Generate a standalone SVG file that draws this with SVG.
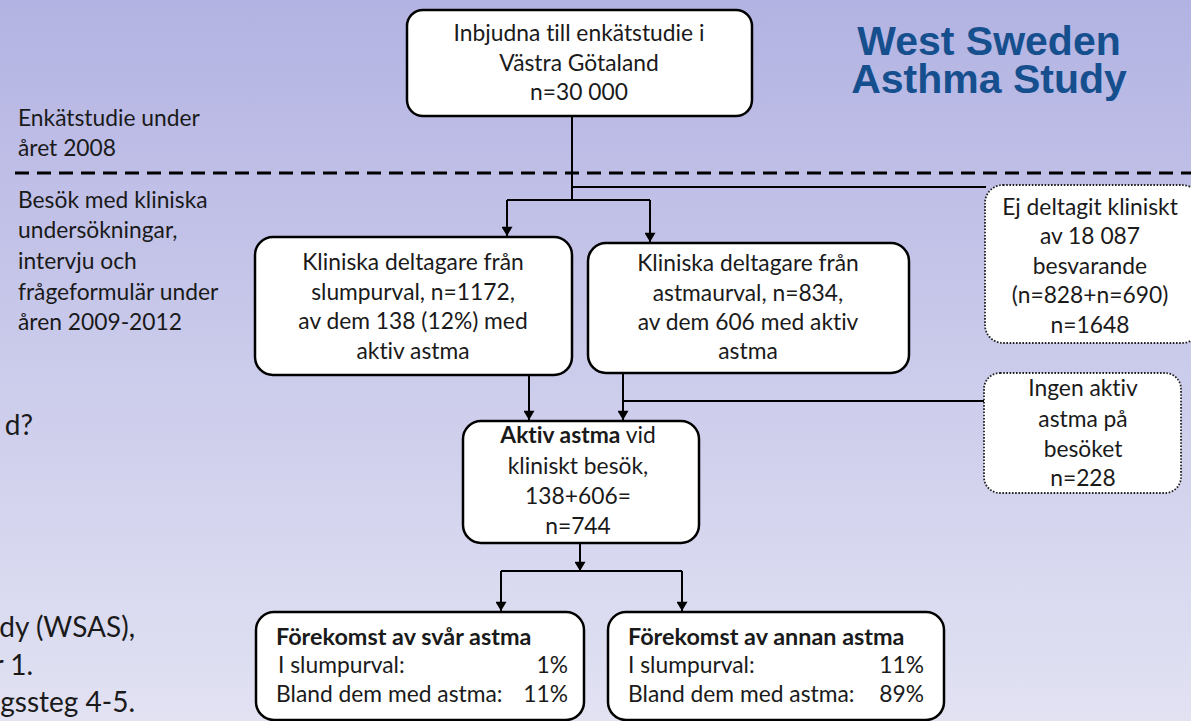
<svg xmlns="http://www.w3.org/2000/svg" width="1191" height="721" viewBox="0 0 1191 721">
<defs>
<linearGradient id="bg" x1="0" y1="0" x2="0" y2="1">
<stop offset="0" stop-color="#b3b3e3"/>
<stop offset="1" stop-color="#e2e2f3"/>
</linearGradient>
<marker id="ah" viewBox="0 0 10 12" refX="10" refY="6" markerWidth="12" markerHeight="11" markerUnits="userSpaceOnUse" orient="auto">
<path d="M0,0 L10,6 L0,12 Z" fill="#000"/>
</marker>
<style>
.box{fill:#fff;stroke:#000;stroke-width:2.5}
.dot{fill:#fff;stroke:#222;stroke-width:1.8;stroke-dasharray:1.6 1.6}
.t{font-family:Lato,"Open Sans",sans-serif;font-size:22.8px;fill:#1a1a1a;font-variant-ligatures:none;font-feature-settings:"liga" 0}
.c{text-anchor:middle}
.e{text-anchor:end}
.b{font-weight:bold}
.bt{font-weight:bold;font-size:23.4px}
.ln{fill:none;stroke:#000;stroke-width:2}
.title{font-family:"Liberation Sans",Arial,sans-serif;font-weight:bold;font-size:41px;fill:#164f8e;text-anchor:middle}
</style>
</defs>
<rect x="0" y="0" width="1191" height="721" fill="url(#bg)"/>

<g id="title">
<text class="title" x="989" y="55">West Sweden</text>
<text class="title" x="989" y="93">Asthma Study</text>
</g>

<g id="side-labels">
<text class="t" x="18" y="126">Enkätstudie under</text>
<text class="t" x="18" y="156">året 2008</text>
<text class="t" x="18" y="208">Besök med kliniska</text>
<text class="t" x="18" y="238">undersökningar,</text>
<text class="t" x="18" y="269">intervju och</text>
<text class="t" x="18" y="300">frågeformulär under</text>
<text class="t" x="18" y="330">åren 2009-2012</text>
<text class="t e" x="33" y="435" style="font-size:28px">d?</text>
<text class="t e" x="135" y="637" style="font-size:28px">dy (WSAS),</text>
<text class="t e" x="33" y="675" style="font-size:28px">r 1.</text>
<text class="t e" x="135" y="712" style="font-size:28px">gssteg 4-5.</text>
</g>

<line id="divider" x1="15" y1="173" x2="1191" y2="173" stroke="#000" stroke-width="3" stroke-dasharray="14 8"/>

<g id="connectors">
<path class="ln" d="M572,116 V200"/>
<path class="ln" d="M572,187 H986"/>
<path class="ln" d="M507,200 H650"/>
<path class="ln" d="M507,200 V236" marker-end="url(#ah)"/>
<path class="ln" d="M650,200 V242" marker-end="url(#ah)"/>
<path class="ln" d="M529,375 V420" marker-end="url(#ah)"/>
<path class="ln" d="M623,373 V420" marker-end="url(#ah)"/>
<path class="ln" d="M623,401 H984"/>
<path class="ln" d="M580,543 V571" marker-end="url(#ah)"/>
<path class="ln" d="M501,571 H682"/>
<path class="ln" d="M501,571 V611" marker-end="url(#ah)"/>
<path class="ln" d="M682,571 V611" marker-end="url(#ah)"/>
</g>

<g id="invited">
<rect class="box" x="407" y="10" width="345" height="106" rx="16"/>
<text class="t c" x="579" y="41">Inbjudna till enkätstudie i</text>
<text class="t c" x="579" y="71">Västra Götaland</text>
<text class="t c" x="579" y="100">n=30 000</text>
</g>

<g id="random-sample">
<rect class="box" x="255" y="237" width="317" height="138" rx="18"/>
<text class="t c" x="413" y="270">Kliniska deltagare från</text>
<text class="t c" x="413" y="300">slumpurval, n=1172,</text>
<text class="t c" x="413" y="329">av dem 138 (12%) med</text>
<text class="t c" x="413" y="359">aktiv astma</text>
</g>

<g id="asthma-sample">
<rect class="box" x="588" y="243" width="321" height="130" rx="18"/>
<text class="t c" x="748" y="271">Kliniska deltagare från</text>
<text class="t c" x="748" y="301">astmaurval, n=834,</text>
<text class="t c" x="748" y="330">av dem 606 med aktiv</text>
<text class="t c" x="748" y="359">astma</text>
</g>

<g id="not-participated">
<rect class="dot" x="985" y="185" width="215" height="158" rx="18"/>
<text class="t c" x="1090" y="215">Ej deltagit kliniskt</text>
<text class="t c" x="1090" y="244">av 18 087</text>
<text class="t c" x="1090" y="274">besvarande</text>
<text class="t c" x="1090" y="303">(n=828+n=690)</text>
<text class="t c" x="1090" y="333">n=1648</text>
</g>

<g id="active-asthma">
<rect class="box" x="463" y="421" width="236" height="122" rx="18"/>
<text class="t c" x="578" y="443"><tspan class="b">Aktiv astma</tspan> vid</text>
<text class="t c" x="578" y="474">kliniskt besök,</text>
<text class="t c" x="578" y="504">138+606=</text>
<text class="t c" x="578" y="534">n=744</text>
</g>

<g id="no-active">
<rect class="dot" x="984" y="373" width="197" height="120" rx="16"/>
<text class="t c" x="1083" y="396">Ingen aktiv</text>
<text class="t c" x="1083" y="427">astma på</text>
<text class="t c" x="1083" y="457">besöket</text>
<text class="t c" x="1083" y="486">n=228</text>
</g>

<g id="severe">
<rect class="box" x="256" y="612" width="328" height="108" rx="18"/>
<text class="t bt" x="276" y="645">Förekomst av svår astma</text>
<text class="t" x="278" y="673">I slumpurval:</text>
<text class="t e" x="568" y="673">1%</text>
<text class="t" x="276" y="702">Bland dem med astma:</text>
<text class="t e" x="568" y="702">11%</text>
</g>

<g id="other">
<rect class="box" x="608" y="612" width="336" height="108" rx="18"/>
<text class="t bt" x="628" y="645">Förekomst av annan astma</text>
<text class="t" x="628" y="673">I slumpurval:</text>
<text class="t e" x="924" y="673">11%</text>
<text class="t" x="628" y="702">Bland dem med astma:</text>
<text class="t e" x="924" y="702">89%</text>
</g>
</svg>
